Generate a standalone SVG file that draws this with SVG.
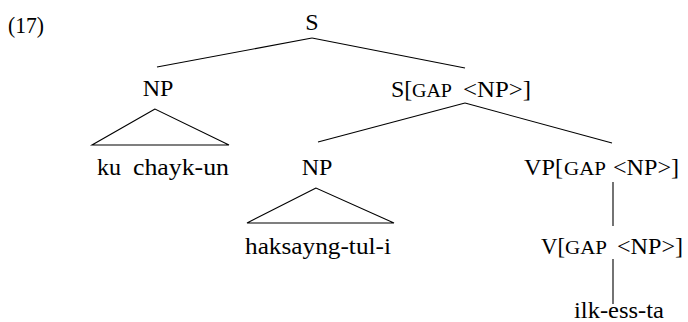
<svg xmlns="http://www.w3.org/2000/svg" width="688" height="322" viewBox="0 0 688 322">
<style>
text{font-family:"Liberation Serif","DejaVu Serif","Times New Roman",serif;font-size:24px;fill:#000}
.sc{font-size:18.5px}
line,polygon{stroke:#000;stroke-width:1.1;fill:none}
</style>
<rect width="688" height="322" fill="#fff"/>
<text x="8" y="33" textLength="36" lengthAdjust="spacingAndGlyphs">(17)</text>
<g id="connectors">
<line x1="312" y1="38" x2="157" y2="67"/>
<line x1="312" y1="38" x2="465" y2="68"/>
<polygon points="155,109 92,145 229,145"/>
<line x1="465" y1="103" x2="318" y2="142"/>
<line x1="465" y1="103" x2="612" y2="143"/>
<polygon points="316,188 247,223 394,223"/>
<line x1="613" y1="182" x2="613" y2="226"/>
<line x1="613" y1="259" x2="613" y2="304"/>
</g>
<g id="n-S"><text x="312" y="30" text-anchor="middle">S</text></g>
<g id="n-NP1"><text x="158" y="96" text-anchor="middle">NP</text></g>
<g id="n-SGAP"><text y="97"><tspan x="391">S[</tspan><tspan class="sc" x="412" textLength="40" lengthAdjust="spacingAndGlyphs">GAP</tspan><tspan x="463" textLength="68" lengthAdjust="spacingAndGlyphs">&lt;NP&gt;]</tspan></text></g>
<g id="n-ku"><text y="175"><tspan x="97">ku</tspan><tspan x="133" textLength="96" lengthAdjust="spacingAndGlyphs">chayk-un</tspan></text></g>
<g id="n-NP2"><text x="317" y="175" text-anchor="middle">NP</text></g>
<g id="n-VP"><text y="175"><tspan x="524" textLength="39" lengthAdjust="spacingAndGlyphs">VP[</tspan><tspan class="sc" x="564" textLength="42" lengthAdjust="spacingAndGlyphs">GAP</tspan><tspan x="613" textLength="66" lengthAdjust="spacingAndGlyphs">&lt;NP&gt;]</tspan></text></g>
<g id="n-hak"><text x="245" y="254" textLength="146" lengthAdjust="spacingAndGlyphs">haksayng-tul-i</text></g>
<g id="n-V"><text y="254"><tspan x="541" textLength="24" lengthAdjust="spacingAndGlyphs">V[</tspan><tspan class="sc" x="565" textLength="42" lengthAdjust="spacingAndGlyphs">GAP</tspan><tspan x="617" textLength="66" lengthAdjust="spacingAndGlyphs">&lt;NP&gt;]</tspan></text></g>
<g id="n-ilk"><text x="574" y="318" textLength="90" lengthAdjust="spacingAndGlyphs">ilk-ess-ta</text></g>
</svg>
